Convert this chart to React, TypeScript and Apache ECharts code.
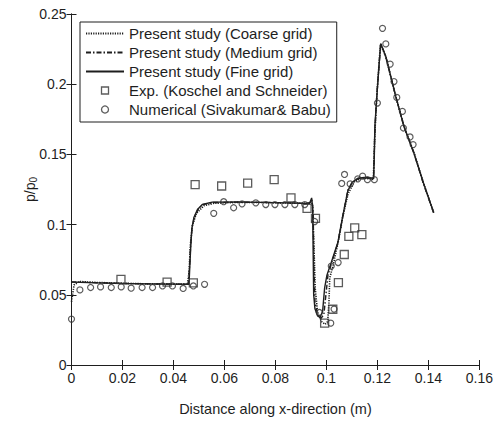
import React, { useEffect, useRef } from "react";
import * as echarts from "echarts";

// ---- Data ----
const coarseGrid: [number, number][] = [
  [0, 0.045], [0.001, 0.057], [0.003, 0.0595], [0.01, 0.0588], [0.02, 0.0582], [0.03, 0.0578], [0.04, 0.0576],
  [0.0455, 0.0576], [0.0461, 0.066], [0.0466, 0.085], [0.0474, 0.099], [0.049, 0.108], [0.052, 0.1135],
  [0.056, 0.1152], [0.065, 0.1158], [0.075, 0.1157], [0.085, 0.1153], [0.0935, 0.1152], [0.0945, 0.115],
  [0.0951, 0.085], [0.0956, 0.055], [0.0965, 0.038], [0.098, 0.031], [0.0995, 0.029], [0.1005, 0.031],
  [0.101, 0.045], [0.1013, 0.062], [0.1025, 0.07], [0.1045, 0.0865], [0.1065, 0.106], [0.1085, 0.122],
  [0.111, 0.1305], [0.114, 0.1332], [0.1184, 0.1322], [0.119, 0.165], [0.1199, 0.196], [0.1212, 0.2285],
  [0.1233, 0.2195], [0.127, 0.1925], [0.1305, 0.1695], [0.1345, 0.1505], [0.138, 0.13], [0.1421, 0.1082],
];

const mediumGrid: [number, number][] = [
  [0, 0.0592], [0.01, 0.0586], [0.02, 0.0581], [0.03, 0.0578], [0.04, 0.0576], [0.0458, 0.0575],
  [0.0463, 0.07], [0.0468, 0.087], [0.0473, 0.098], [0.0482, 0.1055], [0.0497, 0.111], [0.0515, 0.1142],
  [0.0555, 0.1157], [0.065, 0.116], [0.075, 0.1158], [0.085, 0.1155], [0.092, 0.115], [0.0936, 0.1156],
  [0.0943, 0.118], [0.0948, 0.11], [0.0951, 0.07], [0.0955, 0.045], [0.0965, 0.036], [0.0978, 0.033],
  [0.099, 0.036], [0.0998, 0.05], [0.1006, 0.064], [0.102, 0.0725], [0.1045, 0.087], [0.1064, 0.106],
  [0.1084, 0.1245], [0.1102, 0.1302], [0.1125, 0.1328], [0.115, 0.1334], [0.1185, 0.1328],
  [0.1189, 0.16], [0.1195, 0.185], [0.1203, 0.205], [0.1213, 0.229], [0.1233, 0.2197], [0.1272, 0.1913],
  [0.1304, 0.17], [0.1343, 0.151], [0.138, 0.1295], [0.1421, 0.1084],
];

const fineGrid: [number, number][] = [
  [0, 0.059], [0.01, 0.0585], [0.02, 0.058], [0.03, 0.0578], [0.04, 0.0576], [0.0461, 0.0575],
  [0.0464, 0.07], [0.0468, 0.085], [0.0472, 0.097], [0.048, 0.105], [0.0495, 0.111], [0.0513, 0.1143],
  [0.0552, 0.116], [0.065, 0.1161], [0.075, 0.1158], [0.085, 0.1155], [0.092, 0.115], [0.0935, 0.1155],
  [0.0942, 0.119], [0.0946, 0.112], [0.0948, 0.08], [0.095, 0.05], [0.0955, 0.04], [0.0965, 0.035],
  [0.0975, 0.034], [0.0985, 0.038], [0.0993, 0.055], [0.1002, 0.064], [0.1019, 0.073], [0.1045, 0.0874],
  [0.1064, 0.106], [0.1084, 0.124], [0.11, 0.13], [0.1123, 0.133], [0.1149, 0.1335], [0.1185, 0.133],
  [0.1188, 0.15], [0.119, 0.17], [0.12, 0.197], [0.1207, 0.215], [0.1213, 0.229], [0.1233, 0.2197],
  [0.1272, 0.1913], [0.1304, 0.17], [0.1343, 0.151], [0.138, 0.13], [0.1421, 0.1084],
];

const expKoschel: [number, number][] = [
  [0.0194, 0.061], [0.0375, 0.059], [0.0478, 0.0585],
  [0.0485, 0.1285], [0.0589, 0.1275], [0.0691, 0.1295], [0.0795, 0.132], [0.0861, 0.119], [0.0924, 0.1115],
  [0.0957, 0.1045], [0.0993, 0.0298], [0.1025, 0.0397], [0.1047, 0.0587], [0.107, 0.0787],
  [0.1088, 0.0916], [0.1111, 0.0977], [0.1139, 0.0928],
];

const numericalSivakumar: [number, number][] = [
  [0, 0.0327], [0.0033, 0.0535], [0.0075, 0.0552], [0.0114, 0.0556], [0.0156, 0.0552], [0.0195, 0.0556],
  [0.0234, 0.0547], [0.0277, 0.0552], [0.0318, 0.0552], [0.0357, 0.0563], [0.0396, 0.0563],
  [0.0438, 0.0545], [0.0478, 0.0563], [0.0522, 0.0575],
  [0.0558, 0.108], [0.0597, 0.1163], [0.0636, 0.112], [0.0669, 0.1148], [0.0723, 0.1155],
  [0.0762, 0.1143], [0.0798, 0.1143], [0.0837, 0.1143], [0.0876, 0.1143], [0.0915, 0.1143],
  [0.0954, 0.1022], [0.0972, 0.0374], [0.1017, 0.0298], [0.103, 0.0398], [0.1019, 0.0705],
  [0.1046, 0.073], [0.1071, 0.1357], [0.106, 0.1293], [0.1093, 0.129], [0.1123, 0.1326],
  [0.1142, 0.1345], [0.1161, 0.132], [0.1188, 0.132], [0.12, 0.1866], [0.122, 0.2398],
  [0.1233, 0.2287], [0.125, 0.2143], [0.1265, 0.2019], [0.1276, 0.1906], [0.1298, 0.1806],
  [0.1302, 0.1688], [0.1328, 0.1624], [0.134, 0.157],
];

const seriesNames = [
  "Present study (Coarse grid)",
  "Present study (Medium grid)",
  "Present study (Fine grid)",
  "Exp. (Koschel and Schneider)",
  "Numerical (Sivakumar& Babu)",
];

const xTicks = { min: 0, max: 0.16, interval: 0.02 };
const yTicks = { min: 0, max: 0.25, interval: 0.05 };

const FONT = "'Liberation Sans', Arial, sans-serif";
const INK = "#1e1e1e";
const SQUARE = "path://M0,0L10,0L10,10L0,10Z";

export default function App() {
  const ref = useRef<HTMLDivElement>(null);

  useEffect(() => {
    if (!ref.current) return;
    const chart = echarts.init(ref.current, undefined, { renderer: "svg" });
    const fmt = (v: number) => String(parseFloat(v.toFixed(3)));
    const axisCommon = {
      axisLine: { show: true, lineStyle: { color: INK, width: 1 } },
      axisTick: { show: true, inside: true, length: 5, lineStyle: { color: INK, width: 1 } },
      splitLine: { show: false },
    };
    const hiddenSymbol = { opacity: 0 };
    const markerStyle = { color: "rgba(255,255,255,0)", borderColor: "#333", borderWidth: 1.3 };
    chart.setOption({
      animation: false,
      backgroundColor: "#fff",
      color: [INK, INK, INK, INK, INK],
      grid: { left: 71.5, right: 13.5, top: 14, bottom: 55, containLabel: false },
      legend: {
        orient: "vertical",
        left: 80,
        top: 22,
        itemWidth: 38,
        itemHeight: 7,
        itemGap: 4,
        padding: [4, 6, 5, 5],
        backgroundColor: "#fff",
        borderColor: INK,
        borderWidth: 1,
        borderRadius: 0,
        symbolKeepAspect: true,
        textStyle: { fontFamily: FONT, fontSize: 15, color: INK, lineHeight: 15 },
        data: [
          { name: seriesNames[0], itemStyle: hiddenSymbol },
          { name: seriesNames[1], itemStyle: hiddenSymbol },
          { name: seriesNames[2], itemStyle: hiddenSymbol },
          { name: seriesNames[3], icon: SQUARE, itemStyle: markerStyle },
          { name: seriesNames[4], icon: "circle", itemStyle: markerStyle },
        ],
      },
      xAxis: [
        {
          type: "value",
          position: "bottom",
          ...xTicks,
          ...axisCommon,
          axisLabel: { fontFamily: FONT, fontSize: 14, color: INK, margin: 6, formatter: fmt },
          name: "Distance along x-direction (m)",
          nameLocation: "middle",
          nameGap: 36,
          nameMoveOverlap: false,
          nameTextStyle: { fontFamily: FONT, fontSize: 14.5, color: INK },
        },
        {
          type: "value",
          position: "top",
          ...xTicks,
          ...axisCommon,
          axisLabel: { show: false },
        },
      ],
      yAxis: [
        {
          type: "value",
          position: "left",
          ...yTicks,
          ...axisCommon,
          axisLabel: { fontFamily: FONT, fontSize: 14, color: INK, margin: 5, formatter: fmt },
          name: "{a|p/p}{b|0}",
          nameLocation: "middle",
          nameRotate: 90,
          nameGap: 33,
          nameMoveOverlap: false,
          nameTextStyle: {
            fontFamily: FONT,
            color: INK,
            rich: {
              a: { fontFamily: FONT, fontSize: 14, color: INK, lineHeight: 18, verticalAlign: "middle" },
              b: { fontFamily: FONT, fontSize: 10, color: INK, lineHeight: 18, verticalAlign: "bottom", padding: [7, 0, 0, 0] },
            },
          },
        },
        {
          type: "value",
          position: "right",
          ...yTicks,
          ...axisCommon,
          axisLabel: { show: false },
        },
      ],
      series: [
        {
          name: seriesNames[0],
          type: "line",
          data: coarseGrid,
          symbol: "none",
          itemStyle: { color: INK },
          lineStyle: { color: INK, width: 1.6, type: [1.2, 1.2] },
          z: 2,
        },
        {
          name: seriesNames[1],
          type: "line",
          data: mediumGrid,
          symbol: "none",
          itemStyle: { color: INK },
          lineStyle: { color: INK, width: 1.4, type: [5, 2, 1.5, 2] },
          z: 2,
        },
        {
          name: seriesNames[2],
          type: "line",
          data: fineGrid,
          symbol: "none",
          itemStyle: { color: INK },
          lineStyle: { color: INK, width: 1.4, type: "solid" },
          z: 2,
        },
        {
          name: seriesNames[3],
          type: "scatter",
          data: expKoschel,
          symbol: "rect",
          symbolSize: 8,
          itemStyle: markerStyle,
          z: 3,
        },
        {
          name: seriesNames[4],
          type: "scatter",
          data: numericalSivakumar,
          symbol: "circle",
          symbolSize: 6,
          itemStyle: { ...markerStyle, borderWidth: 1.2 },
          z: 3,
        },
      ],
    });
    return () => chart.dispose();
  }, []);

  return (
    <div
      ref={ref}
      style={{ position: "fixed", left: 0, top: 0, width: 496, height: 421, background: "#fff" }}
    />
  );
}
